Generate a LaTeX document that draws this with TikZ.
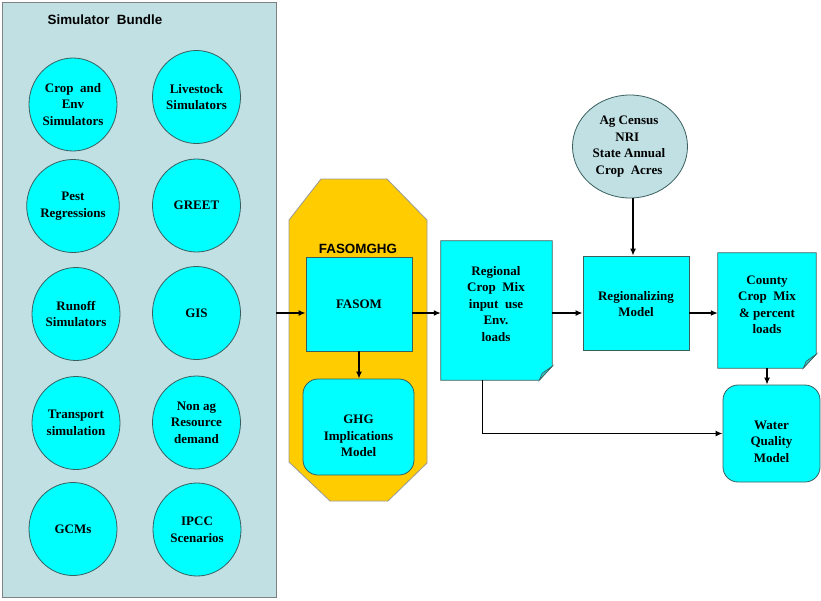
\documentclass[tikz,border=0pt]{standalone}
\usepackage{fontspec}
\setmainfont{Liberation Serif}
\setsansfont{Liberation Sans}
\usetikzlibrary{arrows.meta,calc,shapes.geometric}
\definecolor{bundlebg}{HTML}{C0E0E4}
\definecolor{cyanfill}{HTML}{00FFFF}
\definecolor{edgec}{HTML}{3A5F5F}
\definecolor{goldc}{HTML}{FFCC00}
\definecolor{foldc}{HTML}{33C4C4}
\begin{document}
\begin{tikzpicture}[x=1pt,y=-1pt,
  serif/.style={font=\fontsize{13}{16.5}\selectfont\bfseries, align=center, inner sep=0pt},
  sanslbl/.style={font=\sffamily\fontsize{13.4}{16}\selectfont\bfseries, inner sep=0pt},
  circ/.style={ellipse, draw=edgec, fill=cyanfill, line width=0.8pt, minimum width=88pt, minimum height=93pt, inner sep=0pt, serif},
  boxc/.style={rectangle, draw=edgec, fill=cyanfill, line width=0.8pt, inner sep=0pt},
  docshape/.style={rectangle, inner sep=0pt},
  docline/.style={draw=edgec, fill=cyanfill, line width=0.8pt},
  arr/.style={line width=1.6pt, -{Latex[length=7pt,width=6pt]}},
]
\useasboundingbox (0,0) rectangle (821,600);
\fill[white] (0,0) rectangle (821,600);
% Simulator bundle
\node[rectangle, draw=gray, fill=bundlebg, line width=0.8pt, minimum width=274pt, minimum height=595pt, inner sep=0pt] (bundle) at (139,299.5) {};
\node[sanslbl] (bundlelbl) at (105,20) {Simulator\ \ Bundle};
\node[circ] (crop) at (73,104.5) {Crop\ \ and\\Env\\Simulators};
\node[circ] (live) at (196.5,97) {Livestock\\Simulators};
\node[circ] (pest) at (73,206) {Pest\\Regressions};
\node[circ] (greet) at (196.5,205.5) {GREET};
\node[circ] (runoff) at (76,314) {Runoff\\Simulators};
\node[circ] (gis) at (196.5,313) {GIS};
\node[circ] (transport) at (76,423) {Transport\\simulation};
\node[circ] (nonag) at (196.5,422.5) {Non\ ag\\Resource\\demand};
\node[circ] (gcms) at (73,529) {GCMs};
\node[circ] (ipcc) at (197,529.5) {IPCC\\Scenarios};
% FASOMGHG octagon
\draw[draw=gray!80, fill=goldc, line width=0.8pt] (289,220) -- (321,179) -- (387,179) -- (427,220) -- (427,463) -- (388,501) -- (330,501) -- (289,462) -- cycle;
\node[sanslbl] (fasomghg) at (358,249) {FASOMGHG};
\node[boxc, minimum width=106pt, minimum height=94pt] (fasom) at (359,304) {};
\node[serif] (fasomt) at (359,304) {FASOM};
\node[boxc, rounded corners=15pt, minimum width=111pt, minimum height=96pt] (ghg) at (358.5,427) {};
\node[serif] (ghgt) at (358.5,436) {GHG\\Implications\\Model};
% Regional crop mix document
\node[docshape, minimum width=111pt, minimum height=139pt] (regional) at (496.5,310.5) {};
\draw[docline] (regional.north west) -- (regional.north east) -- ($(regional.south east)+(0,-14)$) -- ($(regional.south east)+(-13,0)$) -- (regional.south west) -- cycle;
\draw[draw=edgec, fill=foldc, line width=0.6pt] ($(regional.south east)+(0,-14)$) -- ($(regional.south east)+(-13,0)$) -- ($(regional.south east)+(-10,-7)$) -- cycle;
\node[serif] (regionalt) at (496,304) {Regional\\Crop\ \ Mix\\input\ \ use\\Env.\\loads};
% Ag census
\node[ellipse, draw=edgec, fill=bundlebg, line width=0.8pt, minimum width=115pt, minimum height=103pt, inner sep=0pt] (ag) at (630,146.5) {};
\node[serif] (agt) at (629,146.5) {Ag Census\\NRI\ \ \ \\State Annual\\Crop\ \ Acres};
% Regionalizing model
\node[boxc, minimum width=106pt, minimum height=94pt] (regmod) at (636,303) {};
\node[serif] (regmodt) at (636,304) {Regionalizing\\Model};
% County document
\node[docshape, minimum width=98pt, minimum height=115pt] (county) at (767,310.5) {};
\draw[docline] (county.north west) -- (county.north east) -- ($(county.south east)+(0,-14)$) -- ($(county.south east)+(-13,0)$) -- (county.south west) -- cycle;
\draw[draw=edgec, fill=foldc, line width=0.6pt] ($(county.south east)+(0,-14)$) -- ($(county.south east)+(-13,0)$) -- ($(county.south east)+(-10,-7)$) -- cycle;
\node[serif] (countyt) at (767,305) {County\\Crop\ \ Mix\\\&\ percent\\loads};
% Water quality
\node[boxc, rounded corners=15pt, minimum width=97pt, minimum height=97pt] (water) at (771.5,433.5) {};
\node[serif] (watert) at (771.5,441.5) {Water\\Quality\\Model};
% connectors
\coordinate (ml) at (0,313);
\draw[arr] (bundle.east |- ml) -- (fasom.west |- ml);
\draw[arr] (fasom.south) -- (fasom.south |- ghg.north);
\draw[arr] (fasom.east |- ml) -- (regional.west |- ml);
\draw[arr] (regional.east |- ml) -- (regmod.west |- ml);
\draw[arr] (regmod.east |- ml) -- (county.west |- ml);
\draw[arr] ($(ag.south)+(3,0)$) -- ($(ag.south |- regmod.north)+(3,0)$);
\draw[arr] (county.south) -- (county.south |- water.north);
\draw[arr] ($(regional.south)+(-14,0)$) |- (water.west);
\end{tikzpicture}
\end{document}
